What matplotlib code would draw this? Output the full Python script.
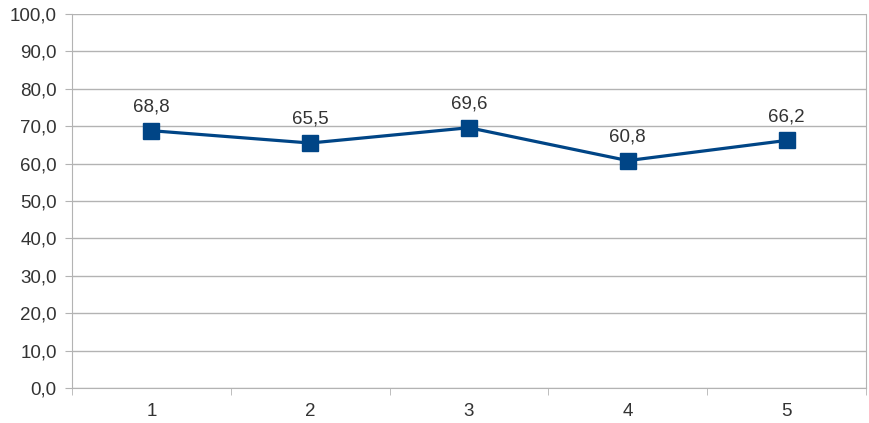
import matplotlib
matplotlib.use("Agg")
import matplotlib.pyplot as plt
from matplotlib.ticker import FuncFormatter, FixedLocator

categories = ["1", "2", "3", "4", "5"]
values = [68.8, 65.5, 69.6, 60.8, 66.2]
y_ticks = [0, 10, 20, 30, 40, 50, 60, 70, 80, 90, 100]

plt.rcParams.update({
    'font.family': ['Liberation Sans', 'DejaVu Sans'],
    'font.size': 13.5,
})

grid_color = '#b3b3b3'
line_color = '#004586'
text_color = '#333333'

fig = plt.figure(figsize=(8.69, 4.23), dpi=100)
ax = fig.add_axes([72 / 869, 1 - 388 / 423, (866 - 72) / 869, (388 - 14) / 423])

x = list(range(len(categories)))
ax.plot(x, values, color=line_color, linewidth=2.3, marker='s', markersize=11, zorder=3)

for xi, v in zip(x, values):
    ax.annotate(f"{v:.1f}".replace('.', ','), (xi, v), xytext=(0, 11),
                textcoords='offset points', ha='center', va='bottom',
                color=text_color, fontsize=13.5)

ax.set_xlim(-0.5, len(categories) - 0.5)
ax.set_ylim(0, 100)
ax.set_yticks(y_ticks)
ax.yaxis.set_major_formatter(FuncFormatter(lambda v, p: f"{v:.1f}".replace('.', ',')))
ax.yaxis.grid(True, color=grid_color, linewidth=1)
ax.set_axisbelow(True)

# category labels centred, tick marks at the boundaries
ax.set_xticks(x)
ax.set_xticklabels(categories)
ax.xaxis.set_minor_locator(FixedLocator([i - 0.5 for i in range(len(categories) + 1)]))
ax.tick_params(axis='x', which='major', length=0, pad=11, colors=text_color)
ax.tick_params(axis='x', which='minor', length=5, color=grid_color, direction='out')
ax.tick_params(axis='y', length=5, color=grid_color, pad=6)
ax.tick_params(axis='y', labelcolor=text_color)

for side in ['left', 'bottom', 'right']:
    ax.spines[side].set_color(grid_color)
ax.spines['top'].set_visible(False)

fig.savefig("out.png", dpi=100, facecolor='white')
